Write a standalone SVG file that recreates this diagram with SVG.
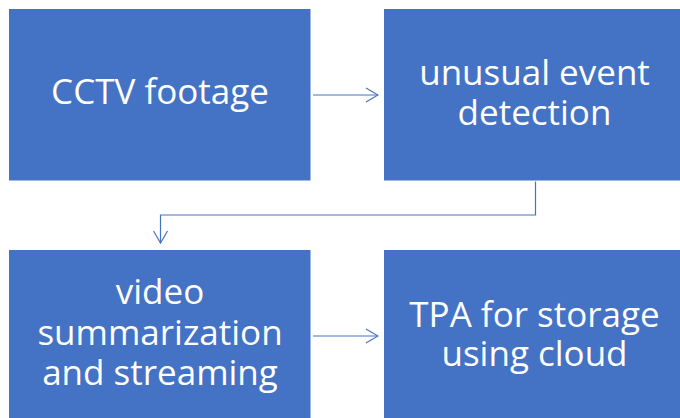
<svg xmlns="http://www.w3.org/2000/svg" width="680" height="418" viewBox="0 0 680 418">
<defs>
<style>
.box{fill:#4472C4;stroke:#ffffff;stroke-width:1}
.t{fill:#ffffff;font-family:"Open Sans","Liberation Sans",sans-serif;font-size:35px;text-anchor:middle}
.c{fill:none;stroke:#4472C4;stroke-width:1.2}
</style>
<marker id="ah" viewBox="0 0 14 16" refX="13" refY="8" markerWidth="14" markerHeight="16" markerUnits="userSpaceOnUse" orient="auto">
<path d="M1,1 L13,8 L1,15" fill="none" stroke="#4472C4" stroke-width="1.2"/>
</marker>
</defs>
<rect width="680" height="418" fill="#ffffff"/>
<g id="connectors">
<line class="c" x1="313" y1="95" x2="378" y2="95" marker-end="url(#ah)"/>
<polyline class="c" points="535.5,181 535.5,215 160.5,215 160.5,243" marker-end="url(#ah)"/>
<line class="c" x1="313" y1="336" x2="378" y2="336" marker-end="url(#ah)"/>
</g>
<g id="n1">
<rect class="box" x="8.5" y="8.5" width="302.5" height="172.5"/>
<text class="t" x="160" y="103.5">CCTV footage</text>
</g>
<g id="n2">
<rect class="box" x="383.5" y="8.5" width="302" height="172.5"/>
<text class="t" x="534.5" y="84.5">unusual event</text>
<text class="t" x="534.5" y="124.5">detection</text>
</g>
<g id="n3">
<rect class="box" x="8.5" y="249.5" width="302.5" height="172"/>
<text class="t" x="160" y="303.5">video</text>
<text class="t" x="160" y="344.5">summarization</text>
<text class="t" x="160" y="385">and streaming</text>
</g>
<g id="n4">
<rect class="box" x="383.5" y="249.5" width="302" height="172"/>
<text class="t" x="534.5" y="326.5">TPA for storage</text>
<text class="t" x="534.5" y="365.5">using cloud</text>
</g>
</svg>
